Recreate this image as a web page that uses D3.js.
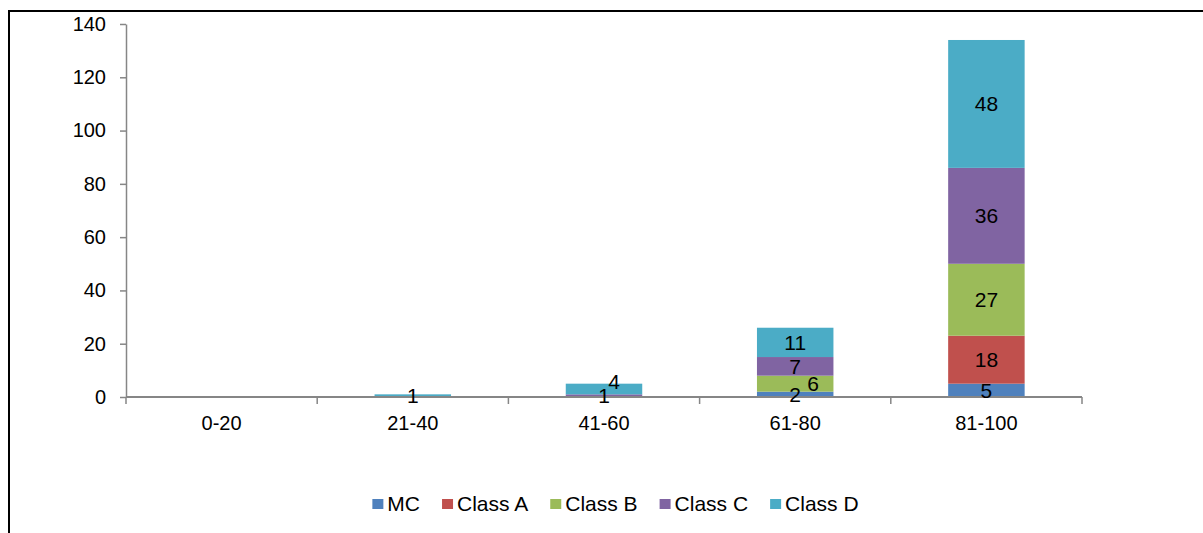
<!DOCTYPE html>
<html>
<head>
<meta charset="utf-8">
<script src="https://cdn.jsdelivr.net/npm/d3@7"></script>
<style>
  html, body { margin: 0; padding: 0; background: #fff; }
  svg text { font-family: "Liberation Sans", Arial, sans-serif; fill: #000; }
</style>
</head>
<body>
<svg id="chart" width="1203" height="533"></svg>
<script>
// Score bands on the category axis
const categories = ["0-20", "21-40", "41-60", "61-80", "81-100"];

// Stacked series, bottom to top
const seriesNames = ["MC", "Class A", "Class B", "Class C", "Class D"];
const mcValues     = [0, 0, 0, 2, 5];
const classAValues = [0, 0, 0, 0, 18];
const classBValues = [0, 0, 0, 6, 27];
const classCValues = [0, 0, 1, 7, 36];
const classDValues = [0, 1, 4, 11, 48];

const yTicks = [0, 20, 40, 60, 80, 100, 120, 140];
const colors = ["#4F81BD", "#C0504D", "#9BBB59", "#8064A2", "#4BACC6"];

const seriesValues = [mcValues, classAValues, classBValues, classCValues, classDValues];
const rows = categories.map((c, i) => {
  const r = { category: c };
  seriesNames.forEach((s, k) => { r[s] = seriesValues[k][i]; });
  return r;
});

const svg = d3.select("#chart");
const axisColor = "#868686";

// Outer chart frame
svg.append("path")
  .attr("d", "M9,533 V11 H1203")
  .attr("fill", "none").attr("stroke", "#000").attr("stroke-width", 2);

const plot = { left: 126, right: 1082, top: 24, bottom: 397 };

const x = d3.scaleBand().domain(categories)
  .range([plot.left, plot.right]).paddingInner(0.6).paddingOuter(0.3);
const y = d3.scaleLinear().domain([0, 140]).range([plot.bottom, plot.top]);

const stack = d3.stack().keys(seriesNames);
const stacked = stack(rows);

// Bars
const g = svg.append("g");
stacked.forEach((layer, k) => {
  g.selectAll(null).data(layer.filter(d => d[1] - d[0] > 0)).join("rect")
    .attr("x", d => x(d.data.category))
    .attr("width", x.bandwidth())
    .attr("y", d => y(d[1]))
    .attr("height", d => y(d[0]) - y(d[1]))
    .attr("fill", colors[k]);
});

// Y axis
const yAxis = d3.axisLeft(y).tickValues(yTicks).tickSize(6).tickPadding(14).tickSizeOuter(0);
const ya = svg.append("g").attr("transform", `translate(${plot.left},0)`).call(yAxis);
ya.select(".domain").attr("stroke", axisColor).attr("stroke-width", 1.5);
ya.selectAll(".tick line").attr("stroke", axisColor).attr("stroke-width", 1.5);
ya.selectAll(".tick text").style("font-size", "20px").style("font-family", "Liberation Sans, Arial, sans-serif").attr("fill", "#000");

// X axis: boundary ticks between categories
const xa = svg.append("g").attr("transform", `translate(0,${plot.bottom})`);
xa.append("line").attr("x1", plot.left).attr("x2", plot.right)
  .attr("stroke", axisColor).attr("stroke-width", 2);
const step = (plot.right - plot.left) / categories.length;
d3.range(categories.length + 1).forEach(i => {
  const bx = plot.left + i * step;
  xa.append("line").attr("x1", bx).attr("x2", bx).attr("y1", 0).attr("y2", 7)
    .attr("stroke", axisColor).attr("stroke-width", 1.5);
});
xa.selectAll("text.cat").data(categories).join("text")
  .attr("class", "cat")
  .attr("x", d => x(d) + x.bandwidth() / 2)
  .attr("y", 33)
  .attr("text-anchor", "middle")
  .style("font-size", "20px")
  .text(d => d);

// Data labels, centred in each segment; nudged when they collide
const labelH = 15;
categories.forEach((c, i) => {
  let prev = null;
  const segs = [];
  stacked.forEach((layer, k) => {
    const d = layer[i];
    if (d[1] - d[0] > 0) segs.push({ v: d[1] - d[0], y0: d[0], y1: d[1], k });
  });
  segs.forEach((s, idx) => {
    let cy = (y(s.y0) + y(s.y1)) / 2;
    let dx = 0;
    const isTop = idx === segs.length - 1;
    if (prev !== null && prev - cy < labelH) {
      if (isTop) { cy = prev - labelH + 1; dx = 10; }
      else { dx = 18; }
    }
    svg.append("text")
      .attr("x", x(c) + x.bandwidth() / 2 + dx)
      .attr("y", cy)
      .attr("dy", "0.36em")
      .attr("text-anchor", "middle")
      .style("font-size", "21px")
      .text(s.v);
    prev = cy;
  });
});

// Legend
const legend = svg.append("g");
const tmp = svg.append("text").style("font-size", "21px");
const widths = seriesNames.map(n => { tmp.text(n); return tmp.node().getComputedTextLength(); });
tmp.remove();
const mk = 11, mkGap = 4, itemGap = 22;
const total = d3.sum(widths) + seriesNames.length * (mk + mkGap) + (seriesNames.length - 1) * itemGap;
let lx = 615.5 - total / 2;
seriesNames.forEach((n, k) => {
  legend.append("rect").attr("x", lx).attr("y", 499).attr("width", mk).attr("height", 10).attr("fill", colors[k]);
  legend.append("text").attr("x", lx + mk + mkGap).attr("y", 511).style("font-size", "21px").text(n);
  lx += mk + mkGap + widths[k] + itemGap;
});
</script>
</body>
</html>
